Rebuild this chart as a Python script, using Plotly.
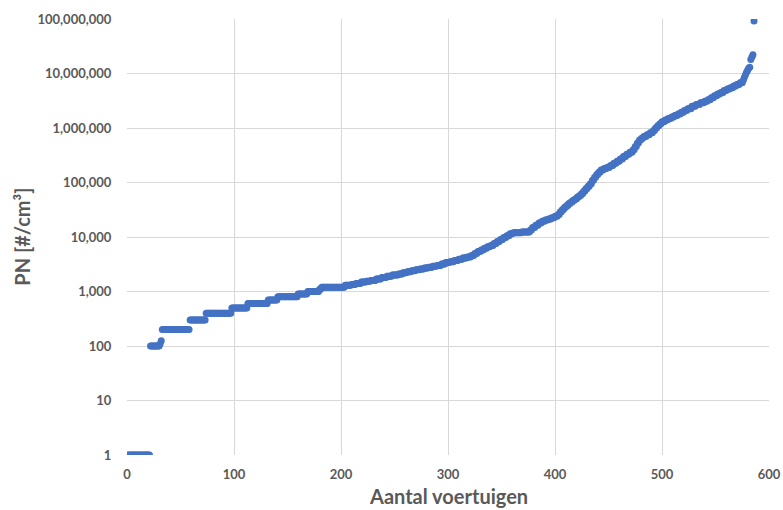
import numpy as np
import plotly.graph_objects as go

# Sorted PN readings, stored run-length encoded: value and how many vehicles share it
PN_VALUES = [
    1, 100, 110, 125, 200, 300, 400, 500, 600, 700, 800, 900, 1000, 1100, 1200,
    1300, 1350, 1400, 1500, 1550, 1600, 1700, 1800, 1900, 2000,
    2100, 2200, 2300, 2400, 2500, 2600, 2700, 2800, 2900, 3000,
    3200, 3400, 3500, 3700, 3900, 4100, 4300, 4600, 5000, 5400,
    5800, 6200, 6600, 7000, 7600, 8300, 9000, 9800, 10500, 11500,
    12000, 12300, 13500, 15000, 16500, 18000, 19500, 20500, 21500, 22500,
    24000, 26000, 29000, 32000, 35000, 38000, 41000, 44000, 47000, 50000,
    54000, 58000, 63000, 70000, 78000, 85000, 95000, 110000, 125000, 140000,
    155000, 170000, 180000, 190000, 205000, 225000, 245000, 270000, 300000, 330000,
    360000, 400000, 460000, 530000, 600000, 650000, 700000, 750000, 820000, 900000,
    1000000, 1100000, 1200000, 1300000, 1400000, 1500000, 1600000, 1700000, 1800000, 1950000,
    2100000, 2250000, 2500000, 2700000, 2900000, 3100000, 3300000, 3600000, 3900000, 4200000,
    4500000, 4900000, 5200000, 5500000, 5900000, 6300000, 6800000, 7500000, 8500000, 9500000,
    10500000, 11500000, 12500000, 13000000, 18000000, 20000000, 22000000, 92000000,
]
PN_COUNTS = [
    21, 9, 1, 1, 26, 15, 24, 15, 19, 9, 19, 9, 11, 2, 22,
    6, 4, 5, 5, 4, 5, 5, 5, 5, 6,
    4, 4, 4, 4, 4, 4, 4, 4, 4, 4,
    4, 4, 4, 4, 4, 4, 4, 3, 3, 3,
    3, 3, 3, 3, 3, 3, 3, 3, 3, 3,
    8, 8, 2, 3, 3, 3, 3, 3, 3, 3,
    3, 2, 2, 2, 2, 2, 2, 2, 2, 2,
    2, 2, 2, 2, 2, 2, 2, 2, 2, 2,
    2, 3, 3, 3, 3, 3, 3, 3, 3, 3,
    3, 2, 2, 2, 2, 2, 3, 3, 3, 2,
    2, 2, 2, 3, 3, 3, 3, 3, 3, 3,
    3, 4, 4, 4, 4, 3, 3, 3, 3, 3,
    3, 3, 3, 3, 3, 3, 3, 1, 1, 1,
    1, 1, 1, 1, 1, 1, 1, 1,
]

Y_TICKS = [1, 10, 100, 1000, 10000, 100000, 1000000, 10000000, 100000000]
Y_TICK_LABELS = ["1", "10", "100", "1,000", "10,000", "100,000", "1,000,000",
                 "10,000,000", "100,000,000"]
X_TICKS = [0, 100, 200, 300, 400, 500, 600]

pn = np.repeat(PN_VALUES, PN_COUNTS)
vehicles = np.arange(1, len(pn) + 1)

GREY = "#595959"
FONT = "Lato"

fig = go.Figure()
fig.add_trace(go.Scatter(
    x=vehicles, y=pn, mode="markers",
    marker=dict(color="#4472C4", size=7, line=dict(width=0)),
    showlegend=False, hoverinfo="x+y",
))

fig.update_layout(
    width=783, height=510,
    margin=dict(l=127, r=14, t=19, b=55),
    paper_bgcolor="white", plot_bgcolor="white",
    font=dict(family=FONT, color=GREY),
    xaxis=dict(
        range=[0, 600], tickvals=X_TICKS, showgrid=True, gridcolor="#D9D9D9",
        gridwidth=1, zeroline=False, showline=False, automargin=False,
        ticks="outside", ticklen=7, tickcolor="rgba(0,0,0,0)",
        tickfont=dict(family=FONT, size=13, color=GREY, weight="bold"),
    ),
    yaxis=dict(
        type="log", range=[0, 8], tickvals=Y_TICKS, ticktext=Y_TICK_LABELS,
        showgrid=True, gridcolor="#D9D9D9", gridwidth=1, zeroline=False,
        showline=False, automargin=False, ticks="outside", ticklen=12,
        tickcolor="rgba(0,0,0,0)",
        tickfont=dict(family=FONT, size=13, color=GREY, weight="bold"),
    ),
    annotations=[
        dict(text="Aantal voertuigen", xref="paper", yref="paper", x=0.5,
             y=-0.094, xanchor="center", yanchor="middle", showarrow=False,
             font=dict(family=FONT, size=20, color=GREY, weight="bold")),
        dict(text="PN [#/cm³]", xref="paper", yref="paper", x=-0.164,
             y=0.5, xanchor="center", yanchor="middle", textangle=-90,
             showarrow=False,
             font=dict(family=FONT, size=20, color=GREY, weight="bold")),
    ],
)

fig.write_html("out.html")
